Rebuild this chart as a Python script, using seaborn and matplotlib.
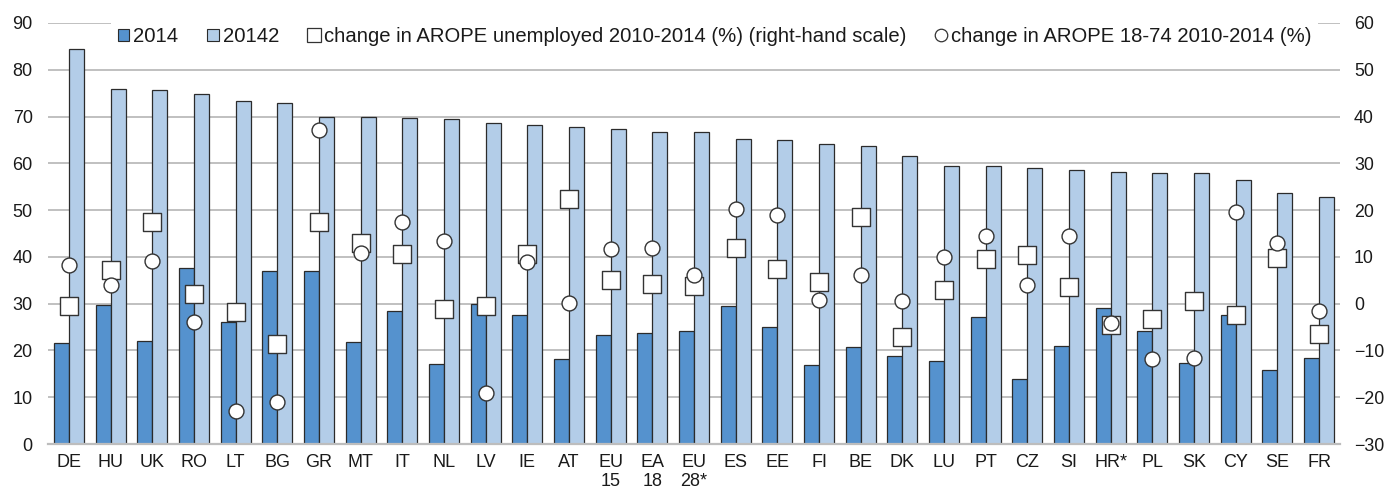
import numpy as np
import pandas as pd
import matplotlib
matplotlib.use("Agg")
import matplotlib.pyplot as plt
import seaborn as sns
from matplotlib.patches import Patch
from matplotlib.lines import Line2D

# ---------------- data ----------------
countries = ["DE", "HU", "UK", "RO", "LT", "BG", "GR", "MT", "IT", "NL", "LV", "IE", "AT",
             "EU\n15", "EA\n18", "EU\n28*", "ES", "EE", "FI", "BE", "DK", "LU", "PT", "CZ",
             "SI", "HR*", "PL", "SK", "CY", "SE", "FR"]

arope_2014 = [21.5, 29.7, 22.1, 37.6, 26.0, 36.9, 37.0, 21.9, 28.4, 17.0, 30.0, 27.6, 18.1,
              23.2, 23.7, 24.1, 29.4, 25.1, 16.8, 20.8, 18.8, 17.8, 27.1, 14.0,
              20.9, 29.0, 24.2, 17.3, 27.6, 15.8, 18.3]

arope_20142 = [84.4, 75.8, 75.6, 74.8, 73.3, 72.8, 70.0, 69.8, 69.7, 69.4, 68.7, 68.2, 67.8,
               67.4, 66.8, 66.6, 65.2, 64.9, 64.1, 63.6, 61.5, 59.4, 59.4, 59.0,
               58.6, 58.1, 58.0, 58.0, 56.4, 53.6, 52.9]

change_unemployed = [-0.5, 7.2, 17.4, 2.0, -1.8, -8.7, 17.4, 13.0, 10.6, -1.1, -0.4, 10.7, 22.3,
                     5.0, 4.2, 3.7, 12.0, 7.4, 4.7, 18.6, -7.2, 3.0, 9.6, 10.5,
                     3.6, -4.5, -3.3, 0.6, -2.4, 9.8, -6.4]

change_1874 = [8.2, 4.0, 9.1, -4.0, -23.0, -21.1, 37.1, 10.8, 17.5, 13.5, -19.1, 8.9, 0.2,
               11.7, 11.9, 6.2, 20.2, 19.0, 0.7, 6.2, 0.6, 10.0, 14.5, 3.9,
               14.4, -4.1, -11.9, -11.6, 19.6, 12.9, -1.5]

series_names = ["2014", "20142"]
legend_labels = ["2014", "20142",
                 "change in AROPE unemployed 2010-2014 (%) (right-hand scale)",
                 "change in AROPE 18-74 2010-2014 (%)"]

# ---------------- style ----------------
sns.set_theme(style="white")
plt.rcParams["font.family"] = ["Liberation Sans", "DejaVu Sans"]

dark_c = "#5592CE"
light_c = "#B3CDE8"
edge_c = "#2b2b2b"
grid_c = "#B5B5B5"
text_c = "#1a1a1a"

n = len(countries)
df_bars = pd.DataFrame({
    "country": countries * 2,
    "series": [series_names[0]] * n + [series_names[1]] * n,
    "value": arope_2014 + arope_20142,
})
df_pts = pd.DataFrame({
    "pos": np.arange(n),
    "unemp": change_unemployed,
    "arope": change_1874,
})

W, H = 1384, 490
fig = plt.figure(figsize=(W / 100, H / 100), dpi=100)
ax = fig.add_axes([48 / W, 1 - 444 / H, 1292 / W, 421 / H])

sns.barplot(data=df_bars, x="country", y="value", hue="series", order=countries,
            hue_order=series_names, palette=[dark_c, light_c], width=0.72, gap=0,
            saturation=1, edgecolor=edge_c, linewidth=0.9, legend=False, ax=ax)

ax2 = ax.twinx()
sns.scatterplot(data=df_pts, x="pos", y="unemp", marker="s", s=150, color="white",
                edgecolor="#333333", linewidth=1.0, legend=False, ax=ax2, zorder=3)
sns.scatterplot(data=df_pts, x="pos", y="arope", marker="o", s=115, color="white",
                edgecolor="#333333", linewidth=1.0, legend=False, ax=ax2, zorder=4)

ax.set_xlim(-0.5, n - 0.5)
ax.set_ylim(0, 90)
ax.set_yticks(range(0, 91, 10))
ax2.set_ylim(-30, 60)
ax2.set_yticks(range(-30, 61, 10))

ax.set_xlabel("")
ax.set_ylabel("")
ax2.set_xlabel("")
ax2.set_ylabel("")

ax.yaxis.grid(True, color=grid_c, linewidth=1.2)
ax.xaxis.grid(False)
ax.set_axisbelow(True)

for s in ["top", "left", "right"]:
    ax.spines[s].set_visible(False)
for s in ax2.spines:
    ax2.spines[s].set_visible(False)
ax.spines["bottom"].set_color("#BDBDBD")
ax.spines["bottom"].set_linewidth(1.6)

ax.tick_params(axis="y", length=0, pad=11, labelsize=13, labelcolor=text_c)
ax.tick_params(axis="x", length=0, pad=7, labelsize=13, labelcolor=text_c)
ax2.tick_params(axis="y", length=0, pad=10, labelsize=12.8, labelcolor=text_c)

handles = [
    Patch(facecolor=dark_c, edgecolor=edge_c, linewidth=0.8),
    Patch(facecolor=light_c, edgecolor=edge_c, linewidth=0.8),
    Line2D([], [], linestyle="", marker="s", markersize=9.5, markerfacecolor="white",
           markeredgecolor="#333333", markeredgewidth=0.9),
    Line2D([], [], linestyle="", marker="o", markersize=9, markerfacecolor="white",
           markeredgecolor="#333333", markeredgewidth=0.9),
]
leg = ax2.legend(handles, legend_labels, ncol=4, loc="center left",
                 bbox_to_anchor=(0.0485, 0.968), frameon=True, fancybox=False,
                 facecolor="white", edgecolor="none", framealpha=1, fontsize=14.6,
                 handlelength=0.55, handleheight=0.55, handletextpad=0.2,
                 columnspacing=1.45, borderpad=0.35, borderaxespad=0)
for t in leg.get_texts():
    t.set_color(text_c)

fig.savefig("out.png", dpi=100)
